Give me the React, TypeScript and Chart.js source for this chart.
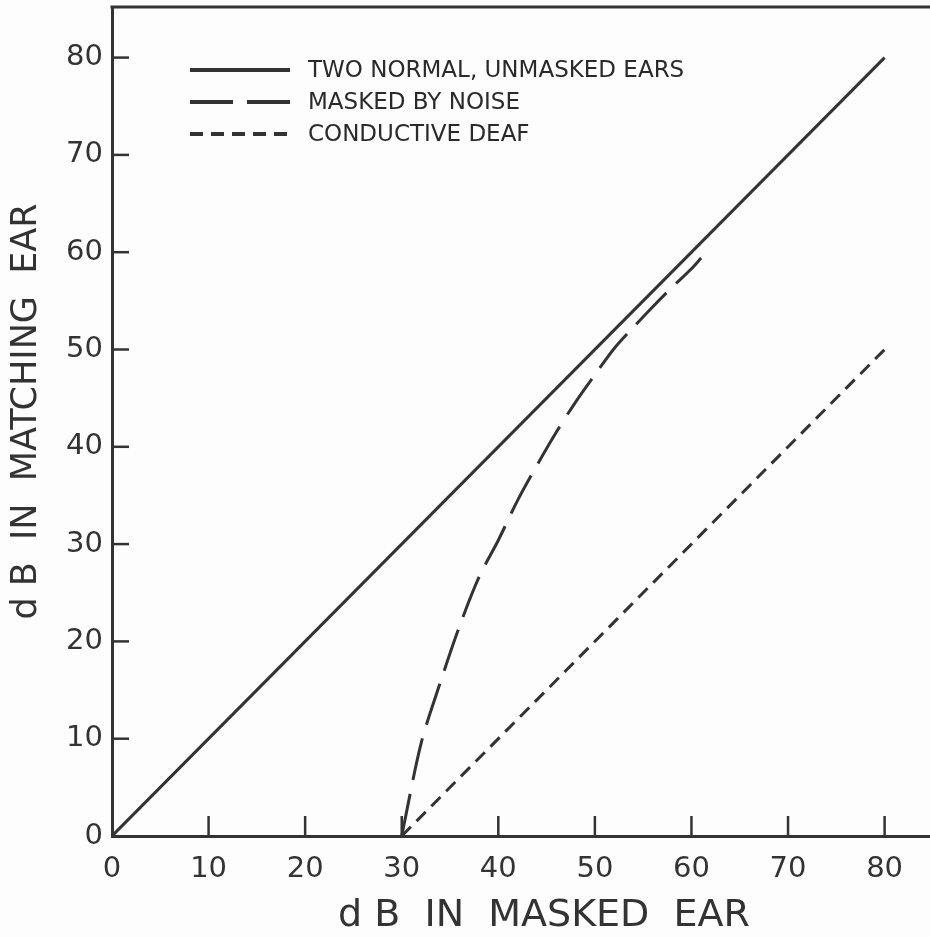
import React, { useEffect, useRef } from "react";
import { Chart, registerables } from "chart.js";

Chart.register(...registerables);

// ---- data ----
const normalX = [0, 80];
const normalY = [0, 80];
const maskedX = [30, 32, 34, 36, 38, 40, 42, 44, 46, 48, 50, 52, 54, 56, 58, 60, 61];
const maskedY = [0, 9.5, 15.8, 21.6, 26.6, 30.4, 34.5, 38.1, 41.5, 44.6, 47.4, 50.1, 52.3, 54.4, 56.4, 58.3, 59.4];
const conductiveX = [30, 80];
const conductiveY = [0, 50];
const xTicks = [0, 10, 20, 30, 40, 50, 60, 70, 80];
const yTicks = [0, 10, 20, 30, 40, 50, 60, 70, 80];
const seriesLabels = ["TWO NORMAL, UNMASKED EARS", "MASKED BY NOISE", "CONDUCTIVE DEAF"];
const xTitle = "d B  IN  MASKED  EAR";
const yTitle = "d B  IN  MATCHING  EAR";

const INK = "#333333";
const FONT = "'DejaVu Sans', 'Liberation Sans', sans-serif";

const toPoints = (xs: number[], ys: number[]) => xs.map((x, i) => ({ x, y: ys[i] }));

const decorPlugin = {
  id: "decor",
  afterDraw(chart: any) {
    const { ctx, chartArea } = chart;
    const { left, right, top, bottom } = chartArea;
    const xs = chart.scales.x;
    const ys = chart.scales.y;
    ctx.save();
    ctx.strokeStyle = INK;
    ctx.lineCap = "butt";
    // top frame line
    ctx.lineWidth = 3;
    ctx.beginPath();
    ctx.moveTo(left - 1.5, top);
    ctx.lineTo(right, top);
    ctx.stroke();
    // inward ticks
    ctx.lineWidth = 2.5;
    yTicks.forEach((v) => {
      if (v === 0) return;
      const py = ys.getPixelForValue(v);
      ctx.beginPath();
      ctx.moveTo(left, py);
      ctx.lineTo(left + 17, py);
      ctx.stroke();
    });
    xTicks.forEach((v) => {
      if (v === 0) return;
      const px = xs.getPixelForValue(v);
      ctx.beginPath();
      ctx.moveTo(px, bottom);
      ctx.lineTo(px, bottom - 20);
      ctx.stroke();
    });
    // legend
    const ds = chart.data.datasets;
    ds.forEach((d: any, i: number) => {
      const y = 70 + 32 * i;
      ctx.lineWidth = 4;
      ctx.setLineDash(d.borderDash || []);
      ctx.beginPath();
      ctx.moveTo(190, y);
      ctx.lineTo(290, y);
      ctx.stroke();
      ctx.setLineDash([]);
      ctx.fillStyle = "#2a2a2a";
      ctx.font = `23px ${FONT}`;
      ctx.textAlign = "left";
      ctx.textBaseline = "middle";
      ctx.fillText(d.label, 308, y + 1);
    });
    // axis titles
    ctx.fillStyle = INK;
    ctx.textAlign = "center";
    ctx.textBaseline = "middle";
    ctx.font = `38px ${FONT}`;
    ctx.fillText(xTitle, (left + right) / 2 + 23, 916);
    ctx.save();
    ctx.translate(27, (top + bottom) / 2 - 10);
    ctx.rotate(-Math.PI / 2);
    ctx.font = `35px ${FONT}`;
    ctx.fillText(yTitle, 0, 0);
    ctx.restore();
    ctx.restore();
  },
};

export default function App() {
  const ref = useRef<HTMLCanvasElement | null>(null);

  useEffect(() => {
    if (!ref.current) return;
    const chart = new Chart(ref.current, {
      type: "scatter",
      data: {
        datasets: [
          {
            label: seriesLabels[0],
            data: toPoints(normalX, normalY),
            showLine: true,
            borderColor: INK,
            borderWidth: 3,
            pointRadius: 0,
            borderDash: [],
          },
          {
            label: seriesLabels[1],
            data: toPoints(maskedX, maskedY),
            showLine: true,
            borderColor: INK,
            borderWidth: 3,
            pointRadius: 0,
            borderDash: [43, 14],
            tension: 0.3,
          },
          {
            label: seriesLabels[2],
            data: toPoints(conductiveX, conductiveY),
            showLine: true,
            borderColor: INK,
            borderWidth: 3,
            pointRadius: 0,
            borderDash: [13, 8],
          },
        ],
      },
      options: {
        animation: false,
        responsive: false,
        devicePixelRatio: 1,
        layout: { padding: { top: 7, left: 0, right: 0, bottom: 0 } },
        plugins: { legend: { display: false }, tooltip: { enabled: false } },
        scales: {
          x: {
            type: "linear",
            position: "bottom",
            min: 0,
            max: 84.7,
            afterFit: (s: any) => {
              s.height = 101;
              s.paddingLeft = 0;
              s.paddingRight = 0;
            },
            afterBuildTicks: (s: any) => {
              s.ticks = xTicks.map((v) => ({ value: v }));
            },
            grid: { display: false, drawTicks: false },
            border: { display: true, color: INK, width: 3 },
            ticks: {
              color: INK,
              font: { family: FONT, size: 29 },
              padding: 16,
              maxRotation: 0,
              autoSkip: false,
            },
          },
          y: {
            type: "linear",
            position: "left",
            min: 0,
            max: 85.2,
            afterFit: (s: any) => {
              s.width = 112;
              s.paddingTop = 0;
              s.paddingBottom = 0;
            },
            afterBuildTicks: (s: any) => {
              s.ticks = yTicks.map((v) => ({ value: v }));
            },
            grid: { display: false, drawTicks: false },
            border: { display: true, color: INK, width: 3 },
            ticks: {
              color: INK,
              font: { family: FONT, size: 29 },
              padding: 9,
              autoSkip: false,
            },
          },
        },
      },
      plugins: [decorPlugin],
    });
    return () => chart.destroy();
  }, []);

  return (
    <div style={{ position: "absolute", left: 0, top: 0, width: 930, height: 937, background: "#fdfdfd" }}>
      <canvas ref={ref} width={930} height={937} style={{ width: 930, height: 937, display: "block" }} />
    </div>
  );
}
